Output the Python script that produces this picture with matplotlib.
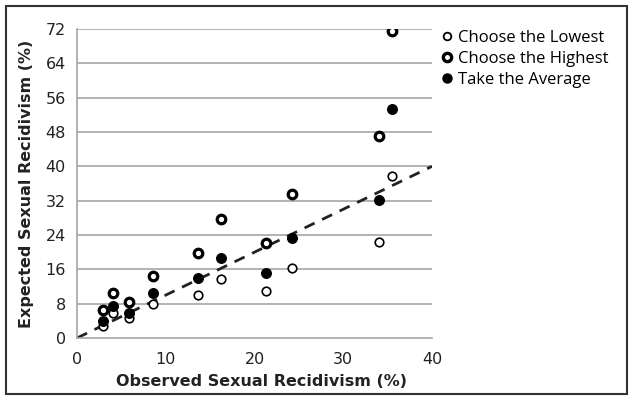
import matplotlib
matplotlib.use("Agg")
import matplotlib.pyplot as plt
from matplotlib.patches import Rectangle
from matplotlib.lines import Line2D

# observed recidivism (%) for each sample
observed = [2.9, 4.0, 5.9, 8.6, 13.6, 16.2, 21.3, 24.2, 34.0, 35.5]

# expected recidivism (%) under each combination rule
lowest = [2.8, 5.9, 4.6, 7.9, 10.0, 13.7, 11.0, 16.4, 22.3, 37.8]
highest = [6.6, 10.4, 8.5, 14.4, 19.9, 27.8, 22.1, 33.5, 47.1, 71.6]
average = [3.9, 7.5, 5.8, 10.4, 13.9, 18.7, 15.2, 23.2, 32.2, 53.4]

legend_labels = ["Choose the Lowest", "Choose the Highest", "Take the Average"]

x_ticks = [0, 10, 20, 30, 40]
y_ticks = [0, 8, 16, 24, 32, 40, 48, 56, 64, 72]

plt.rcParams["font.family"] = "DejaVu Sans"

fig = plt.figure(figsize=(6.33, 4.0), dpi=100)
ax = fig.add_axes([77 / 633, 62 / 400, 355 / 633, 309 / 400])

grid_col = "#a6a6a6"
for y in y_ticks[1:]:
    ax.axhline(y, color=grid_col, lw=1.2, zorder=0)

# identity line
ax.plot([0, 40], [0, 40], ls=(0, (4, 3)), color="#222222", lw=2.0, zorder=2)

ax.scatter(observed, lowest, s=38, facecolor="white", edgecolor="black",
           linewidth=1.2, zorder=3)
ax.scatter(observed, highest, s=38, facecolor="white", edgecolor="black",
           linewidth=2.3, zorder=3)
ax.scatter(observed, average, s=50, facecolor="black", edgecolor="black",
           linewidth=0.8, zorder=4)

ax.set_xlim(0, 40)
ax.set_ylim(0, 72)
ax.set_xticks(x_ticks)
ax.set_yticks(y_ticks)
ax.tick_params(length=0, labelsize=11.5, colors="#222222")
ax.tick_params(axis="y", pad=8)
ax.tick_params(axis="x", pad=10)
for side in ("top", "right"):
    ax.spines[side].set_visible(False)
for side in ("left", "bottom"):
    ax.spines[side].set_color(grid_col)
    ax.spines[side].set_linewidth(1.2)

ax.set_xlabel("Observed Sexual Recidivism (%)", fontsize=11.5,
              fontweight="bold", color="#222222")
ax.set_ylabel("Expected Sexual Recidivism (%)", fontsize=11.5,
              fontweight="bold", color="#222222")
ax.xaxis.set_label_coords(0.52, -0.115)
ax.yaxis.set_label_coords(-0.12, 0.5)

handles = [
    Line2D([], [], ls="", marker="o", ms=5.5, mfc="white", mec="black", mew=1.3),
    Line2D([], [], ls="", marker="o", ms=6, mfc="white", mec="black", mew=2.4),
    Line2D([], [], ls="", marker="o", ms=6.5, mfc="black", mec="black"),
]
fig.legend(handles, legend_labels, loc="upper left",
           bbox_to_anchor=(432 / 633, 1 - 22 / 400), frameon=False,
           handlelength=0.8, handletextpad=0.25, labelspacing=0.3,
           borderpad=0, prop={"family": "Open Sans", "size": 12})

fig.patches.append(Rectangle((6 / 633, 6 / 400), 621 / 633, 388 / 400,
                             transform=fig.transFigure, fill=False,
                             edgecolor="#333333", lw=1.5))

fig.savefig("out.png", dpi=100)
